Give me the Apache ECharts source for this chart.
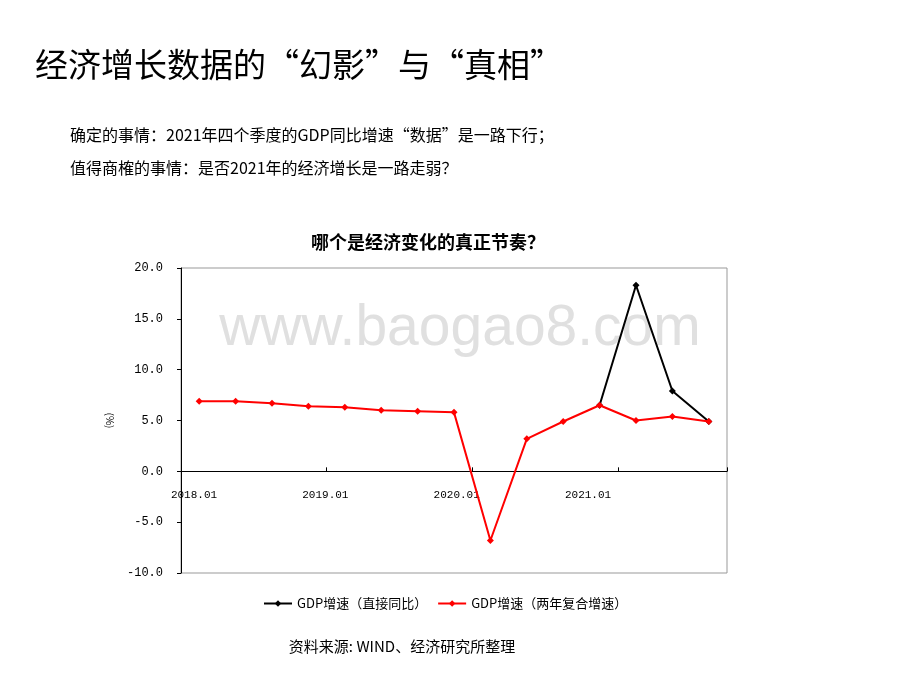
<!DOCTYPE html>
<html>
<head>
<meta charset="utf-8">
<script src="https://cdn.jsdelivr.net/npm/echarts@6/dist/echarts.min.js"></script>
<style>html,body{margin:0;padding:0;background:#fff;}#c{width:920px;height:690px;}</style>
</head>
<body>
<div id="c"></div>
<script>
// ---- data ----
var categories = ['2018Q1','2018Q2','2018Q3','2018Q4','2019Q1','2019Q2','2019Q3','2019Q4',
                  '2020Q1','2020Q2','2020Q3','2020Q4','2021Q1','2021Q2','2021Q3'];
var directYoY = [null,null,null,null,null,null,null,null,null,null,null,6.5,18.3,7.9,4.9];
var twoYearAvg = [6.9,6.9,6.7,6.4,6.3,6.0,5.9,5.8,-6.8,3.2,4.9,6.5,5.0,5.4,4.9];
var tickLabels = ['2018.01','2019.01','2020.01','2021.01'];
var seriesNames = ['GDP增速（直接同比）','GDP增速（两年复合增速）'];

var CJK = '"Noto Sans CJK SC", sans-serif';
var MONO = '"Liberation Mono", monospace';
var gridBox = {left: 181, right: 193, top: 268, bottom: 117};
var yMin = -10, yMax = 20;
var plotH = 690 - gridBox.top - gridBox.bottom;
// shift the label axis up from the grid bottom to the zero line
var zeroOffset = -((0 - yMin) / (yMax - yMin)) * plotH;

var chart = echarts.init(document.getElementById('c'));
chart.setOption({
  backgroundColor: '#fff',
  animation: false,
  graphic: [
    {type:'text', left: 35, top: 48, z: 10, style:{text:'经济增长数据的“幻影”与“真相”', font:'33px ' + CJK, fill:'#000'}},
    {type:'text', left: 70, top: 127, z: 10, style:{text:'确定的事情：2021年四个季度的GDP同比增速“数据”是一路下行；', font:'16px ' + CJK, fill:'#000'}},
    {type:'text', left: 70, top: 160, z: 10, style:{text:'值得商榷的事情：是否2021年的经济增长是一路走弱？', font:'16px ' + CJK, fill:'#000'}},
    {type:'text', x: 428, y: 242, z: 10, style:{text:'哪个是经济变化的真正节奏？', font:'bold 18px ' + CJK, fill:'#000', align:'center', verticalAlign:'middle'}},
    {type:'text', x: 402, y: 646, z: 10, style:{text:'资料来源: WIND、经济研究所整理', font:'15px ' + CJK, fill:'#000', align:'center', verticalAlign:'middle'}},
    {type:'text', x: 460, y: 329, z: 0, style:{text:'www.baogao8.com', font:'57px "Liberation Sans", Arial, sans-serif', fill:'#e0e0e0', align:'center', verticalAlign:'middle'}}
  ],
  legend: {
    data: seriesNames,
    left: 258,
    top: 592,
    itemWidth: 28,
    itemHeight: 8,
    itemGap: 10,
    textStyle: {fontFamily: CJK, fontSize: 13, color: '#000'}
  },
  grid: [
    Object.assign({show: true, borderColor: '#999', borderWidth: 1}, gridBox)
  ],
  xAxis: [
    {
      type: 'category', data: categories, boundaryGap: true,
      axisLine: {onZero: true, lineStyle: {color: '#000', width: 1}},
      axisTick: {show: true, inside: true, length: 4, lineStyle:{color:'#000'}, interval: function(i){ return i % 4 === 0; }},
      axisLabel: {show: false},
      splitLine: {show: false}
    },
    {
      type: 'value', min: -0.099, max: 4.058, position: 'bottom', offset: zeroOffset,
      axisLine: {show: false, onZero: false},
      axisTick: {show: false},
      splitLine: {show: false},
      axisLabel: {
        show: true, margin: 18, fontFamily: MONO, fontSize: 11, color: '#000',
        customValues: [0,1,2,3],
        formatter: function(v){ return tickLabels[Math.round(v)] || ''; }
      }
    }
  ],
  yAxis: [
    {
      type: 'value', min: yMin, max: yMax, interval: 5,
      name: '(%)', nameLocation: 'middle', nameGap: 66, nameRotate: -90,
      nameTextStyle: {fontFamily: CJK, fontSize: 10, color: '#000'},
      axisLine: {show: true, onZero: false, lineStyle: {color: '#000'}},
      axisTick: {show: true, inside: false, length: 4, lineStyle: {color: '#000'}},
      axisLabel: {margin: 18, fontFamily: MONO, fontSize: 12, color: '#000', formatter: function(v){ return v.toFixed(1); }},
      splitLine: {show: false}
    }
  ],
  series: [
    {
      name: seriesNames[0], type: 'line', xAxisIndex: 0, yAxisIndex: 0, data: directYoY, z: 2,
      symbol: 'diamond', symbolSize: 7, showSymbol: true,
      lineStyle: {color: '#000', width: 2}, itemStyle: {color: '#000'}
    },
    {
      name: seriesNames[1], type: 'line', xAxisIndex: 0, yAxisIndex: 0, data: twoYearAvg, z: 3,
      symbol: 'diamond', symbolSize: 7, showSymbol: true,
      lineStyle: {color: '#f00', width: 2}, itemStyle: {color: '#f00'}
    }
  ]
});
</script>
</body>
</html>
